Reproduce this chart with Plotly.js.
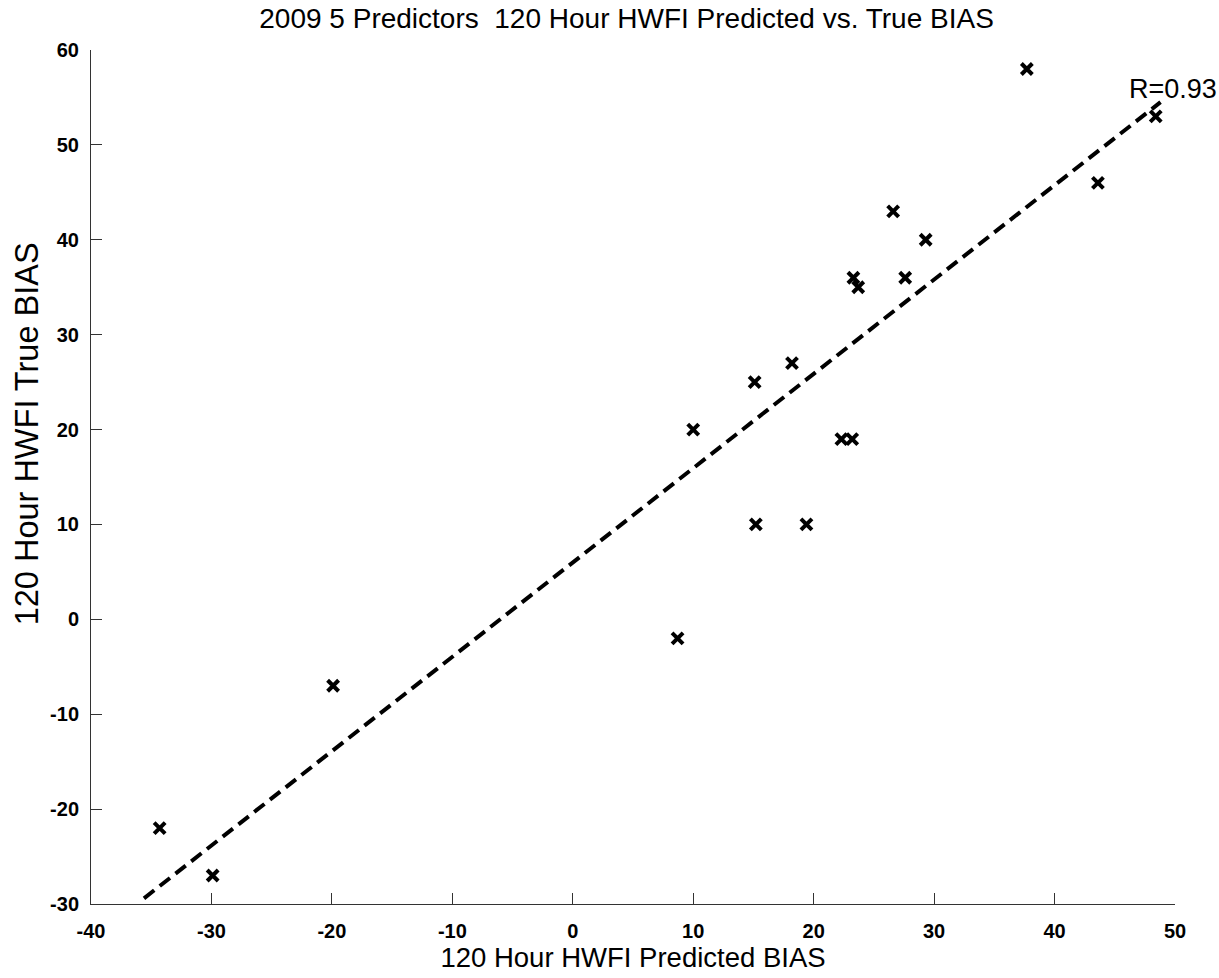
<!DOCTYPE html>
<html>
<head>
<meta charset="utf-8">
<script src="https://cdn.plot.ly/plotly-3.0.1.min.js"></script>
<style>
  html, body { margin: 0; padding: 0; background: #fff; }
  #chart { width: 1219px; height: 978px; }
</style>
</head>
<body>
<div id="chart"></div>
<script>
// Predicted vs. true 120 h HWFI bias for each case
const predictedBias = [-34.3, -29.9, -19.9, 8.7, 10.0, 15.1, 15.2, 18.2, 19.4, 22.3, 23.2, 23.3, 23.7, 26.6, 27.6, 29.3, 37.7, 43.6, 48.4];
const trueBias      = [-22, -27, -7, -2, 20, 25, 10, 27, 10, 19, 19, 36, 35, 43, 36, 40, 58, 46, 53];

// Least-squares fit line end points
const fitX = [-35.6, 48.8];
const fitY = [-29.4, 54.5];

const rLabel = 'R=0.93';
const rPos = [46.0, 55.9];

const xTicks = [-40, -30, -20, -10, 0, 10, 20, 30, 40, 50];
const xTickText = ['-40', '-30', '-20', '-10', '0', '10', '20', '30', '40', '50'];
const yTicks = [-30, -20, -10, 0, 10, 20, 30, 40, 50, 60];
const yTickText = ['-30', '-20', '-10', '0', '10', '20', '30', '40', '50', '60'];

const xLabel = '120 Hour HWFI Predicted BIAS';
const yLabel = '120 Hour HWFI True BIAS';

const font = 'Liberation Sans, Arial, Helvetica, sans-serif';

const traces = [
  {
    x: fitX, y: fitY,
    mode: 'lines',
    type: 'scatter',
    line: { color: '#000', width: 4, dash: '13px,7px' },
    hoverinfo: 'skip'
  },
  {
    x: predictedBias, y: trueBias,
    mode: 'markers',
    type: 'scatter',
    marker: { symbol: 'x-thin-open', size: 11, color: '#000', line: { color: '#000', width: 4 } }
  }
];

const axisCommon = {
  showgrid: false,
  zeroline: false,
  showline: true,
  linecolor: '#333',
  linewidth: 1,
  ticks: 'inside',
  ticklen: 11,
  tickwidth: 1,
  tickcolor: '#333',
  tickmode: 'array',
  tickfont: { family: font, size: 20, color: '#000', weight: 'bold' },
  mirror: false
};

const layout = {
  width: 1219,
  height: 978,
  paper_bgcolor: '#fff',
  plot_bgcolor: '#fff',
  showlegend: false,
  margin: { l: 91, r: 44, t: 50, b: 74 },
  title: {
    text: '2009 5 Predictors&nbsp;&nbsp;120 Hour HWFI Predicted vs. True BIAS',
    font: { family: font, size: 28, color: '#000' },
    xref: 'container', x: 0.514, xanchor: 'center',
    y: 0.981, yanchor: 'middle'
  },
  xaxis: Object.assign({}, axisCommon, {
    range: [-40, 50],
    tickvals: xTicks,
    ticktext: xTickText,
    ticklabelstandoff: 9,
    title: { text: xLabel, font: { family: font, size: 27.5, color: '#000' }, standoff: 4 }
  }),
  yaxis: Object.assign({}, axisCommon, {
    range: [-30, 60],
    tickvals: yTicks,
    ticktext: yTickText,
    ticklabelstandoff: 7
  }),
  annotations: [
    {
      x: rPos[0], y: rPos[1], xref: 'x', yref: 'y',
      text: rLabel, showarrow: false,
      xanchor: 'left', yanchor: 'middle',
      font: { family: font, size: 27, color: '#000' }
    },
    {
      // vertical axis label, placed slightly above the plot centre
      x: -0.059, y: 0.55, xref: 'paper', yref: 'paper',
      text: yLabel, showarrow: false, textangle: -90,
      xanchor: 'center', yanchor: 'middle',
      font: { family: font, size: 32.5, color: '#000' }
    }
  ]
};

Plotly.newPlot('chart', traces, layout, { displayModeBar: false, staticPlot: true });
</script>
</body>
</html>
